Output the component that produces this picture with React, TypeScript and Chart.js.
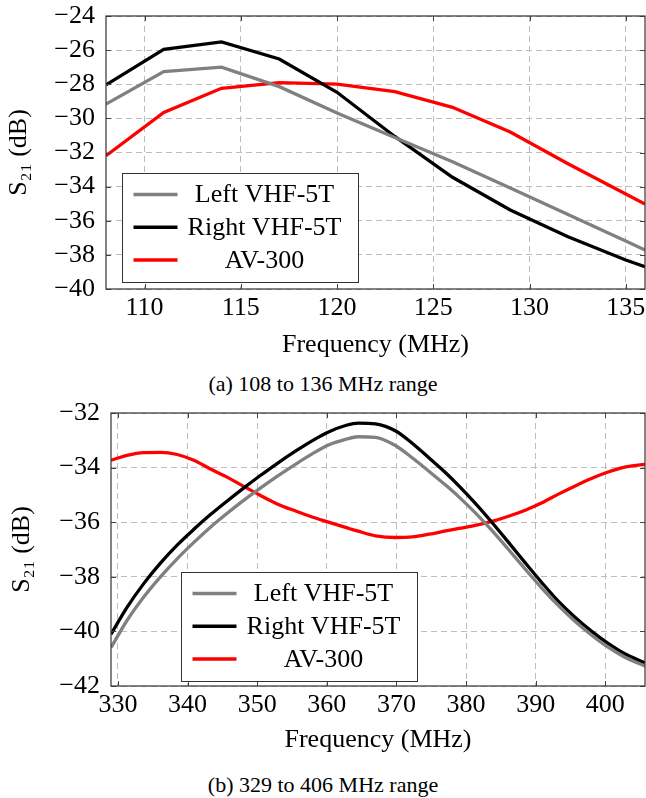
import React, { useEffect, useRef } from 'react';
import { Chart, registerables } from 'chart.js';

Chart.register(...registerables);

const FONT = '"Liberation Serif", "Times New Roman", Times, serif';

// ---------- shared ----------
const seriesLabels = ['Left VHF-5T', 'Right VHF-5T', 'AV-300'];
const seriesColors = ['#808080', '#000000', '#ff0000'];
const xTitle = 'Frequency (MHz)';
const yTitle = 'S\u2082\u2081 (dB)';

// ---------- (a) 108 to 136 MHz ----------
const captionA = '(a) 108 to 136 MHz range';
const freqA = [108, 111, 114, 117, 120, 123, 126, 129, 132, 135, 136];
const leftA = [-29.16, -27.26, -27.0, -28.14, -29.69, -31.12, -32.54, -34.08, -35.64, -37.19, -37.72];
const rightA = [-28.04, -25.95, -25.52, -26.52, -28.47, -31.06, -33.45, -35.37, -36.94, -38.3, -38.69];
const av300A = [-32.19, -29.65, -28.24, -27.91, -27.99, -28.43, -29.35, -30.8, -32.66, -34.43, -35.02];
const xTicksA = [110, 115, 120, 125, 130, 135];
const yTicksA = [-40, -38, -36, -34, -32, -30, -28, -26, -24];

// ---------- (b) 329 to 406 MHz ----------
const captionB = '(b) 329 to 406 MHz range';
const freqB = [329, 331.3, 333.7, 336.1, 338.5, 340.9, 343.2, 345.6, 348.0, 350.4, 352.8,
  355.6, 358.0, 360.0, 362.8, 364.5, 367.0, 369.9, 372.3, 374.7, 377.1, 379.0,
  381.3, 383.7, 386.1, 388.5, 390.9, 393.2, 395.6, 398.0, 400.4, 402.8, 405.7];
const leftB = [-40.59, -39.6, -38.74, -38.0, -37.34, -36.74, -36.2, -35.69, -35.21, -34.76, -34.33,
  -33.86, -33.48, -33.2, -32.96, -32.87, -32.89, -33.2, -33.65, -34.14, -34.65, -35.08,
  -35.65, -36.3, -37.0, -37.72, -38.42, -39.04, -39.62, -40.13, -40.58, -40.95, -41.27];
const rightB = [-40.1, -39.12, -38.25, -37.5, -36.84, -36.26, -35.74, -35.24, -34.76, -34.3, -33.86,
  -33.38, -33.0, -32.72, -32.45, -32.37, -32.4, -32.66, -33.12, -33.65, -34.2, -34.68,
  -35.3, -36.0, -36.74, -37.49, -38.22, -38.88, -39.47, -39.99, -40.44, -40.82, -41.15];
const av300B = [-33.73, -33.55, -33.45, -33.44, -33.52, -33.73, -34.04, -34.34, -34.68, -35.01, -35.32,
  -35.6, -35.82, -35.98, -36.2, -36.33, -36.5, -36.56, -36.54, -36.44, -36.32, -36.23,
  -36.12, -35.97, -35.78, -35.56, -35.29, -34.98, -34.68, -34.4, -34.16, -33.98, -33.88];
const xTicksB = [330, 340, 350, 360, 370, 380, 390, 400];
const yTicksB = [-42, -40, -38, -36, -34, -32];

const fmt = (v: number) => (v < 0 ? '\u2212' + Math.abs(v) : String(v));

const frameLegendPlugin = {
  id: 'frameLegend',
  afterDraw(chart: any, _args: any, opts: any) {
    const { ctx, chartArea: a, scales } = chart;
    ctx.save();
    // inward tick marks on all four sides
    ctx.strokeStyle = '#444';
    ctx.lineWidth = 1;
    ctx.beginPath();
    for (const t of scales.x.ticks) {
      const px = Math.round(scales.x.getPixelForValue(t.value)) + 0.5;
      ctx.moveTo(px, a.bottom);
      ctx.lineTo(px, a.bottom - 5);
      ctx.moveTo(px, a.top);
      ctx.lineTo(px, a.top + 5);
    }
    for (const t of scales.y.ticks) {
      const py = Math.round(scales.y.getPixelForValue(t.value)) + 0.5;
      ctx.moveTo(a.left, py);
      ctx.lineTo(a.left + 5, py);
      ctx.moveTo(a.right, py);
      ctx.lineTo(a.right - 5, py);
    }
    ctx.stroke();
    // frame
    ctx.strokeStyle = '#333';
    ctx.lineWidth = 1.2;
    ctx.strokeRect(a.left, a.top, a.right - a.left, a.bottom - a.top);

    // legend box
    const bx = Math.round(a.left + opts.offsetLeft) + 0.5;
    const by = Math.round(a.bottom - opts.offsetBottom - opts.height) + 0.5;
    ctx.fillStyle = '#ffffff';
    ctx.fillRect(bx, by, opts.width, opts.height);
    ctx.strokeStyle = '#333';
    ctx.lineWidth = 1;
    ctx.strokeRect(bx, by, opts.width, opts.height);
    chart.data.datasets.forEach((ds: any, i: number) => {
      const cy = by + 21 + i * 32.75;
      ctx.strokeStyle = ds.borderColor;
      ctx.lineWidth = 3.6;
      ctx.beginPath();
      ctx.moveTo(bx + 11, cy);
      ctx.lineTo(bx + 55, cy);
      ctx.stroke();
      ctx.fillStyle = '#000';
      ctx.font = `26px ${FONT}`;
      ctx.textAlign = 'center';
      ctx.textBaseline = 'middle';
      ctx.fillText(ds.label, bx + 142, cy + 1);
    });
    ctx.restore();
  },
};

type PlotProps = {
  freq: number[];
  series: number[][];
  xMin: number;
  xMax: number;
  yMin: number;
  yMax: number;
  xTicks: number[];
  yTicks: number[];
  smooth: boolean;
  width: number;
  height: number;
  padTop: number;
  yAxisWidth: number;
  xAxisHeight: number;
  yTitlePad: number;
  legend: { offsetLeft: number; offsetBottom: number; width: number; height: number };
};

function Plot(p: PlotProps) {
  const ref = useRef<HTMLCanvasElement | null>(null);
  useEffect(() => {
    if (!ref.current) return;
    const gridColor = '#bdbdbd';
    const tickFont = { family: FONT, size: 26 };
    const chart = new Chart(ref.current, {
      type: 'line',
      data: {
        datasets: p.series.map((vals, i) => ({
          label: seriesLabels[i],
          data: p.freq.map((f, j) => ({ x: f, y: vals[j] })),
          borderColor: seriesColors[i],
          backgroundColor: seriesColors[i],
          borderWidth: 3.3,
          pointRadius: 0,
          fill: false,
          tension: 0,
          cubicInterpolationMode: p.smooth ? 'monotone' : 'default',
        })),
      },
      options: {
        animation: false,
        responsive: false,
        events: [],
        layout: { padding: { top: p.padTop, right: 1, left: 0, bottom: 0 } },
        plugins: {
          legend: { display: false },
          tooltip: { enabled: false },
          frameLegend: p.legend,
        } as any,
        scales: {
          x: {
            type: 'linear',
            min: p.xMin,
            max: p.xMax,
            afterBuildTicks: (s: any) => {
              s.ticks = p.xTicks.map((v) => ({ value: v }));
            },
            afterFit: (s: any) => {
              s.height = p.xAxisHeight;
              s.paddingLeft = 0;
              s.paddingRight = 0;
            },
            ticks: {
              padding: 4,
              color: '#000',
              font: tickFont,
              maxRotation: 0,
              autoSkip: false,
              callback: (v: any) => fmt(Number(v)),
            },
            grid: { color: gridColor, lineWidth: 1, drawTicks: false },
            border: { display: false, dash: [6, 4] },
            title: {
              display: true,
              text: xTitle,
              color: '#000',
              font: tickFont,
              padding: { top: 0, bottom: 5 },
            },
          },
          y: {
            type: 'linear',
            min: p.yMin,
            max: p.yMax,
            afterBuildTicks: (s: any) => {
              s.ticks = p.yTicks.map((v) => ({ value: v }));
            },
            afterFit: (s: any) => {
              s.width = p.yAxisWidth;
              s.paddingTop = 0;
              s.paddingBottom = 0;
            },
            ticks: {
              padding: 11,
              color: '#000',
              font: tickFont,
              autoSkip: false,
              callback: (v: any) => fmt(Number(v)),
            },
            grid: { color: gridColor, lineWidth: 1, drawTicks: false },
            border: { display: false, dash: [6, 4] },
            title: {
              display: true,
              text: yTitle,
              color: '#000',
              font: tickFont,
              padding: { top: p.yTitlePad, bottom: 0 },
            },
          },
        },
      } as any,
      plugins: [frameLegendPlugin as any],
    });
    return () => chart.destroy();
  }, []);
  return (
    <canvas
      ref={ref}
      width={p.width}
      height={p.height}
      style={{ width: p.width, height: p.height, display: 'block' }}
    />
  );
}

const captionStyle: React.CSSProperties = {
  position: 'absolute',
  left: 0,
  width: 646,
  height: 26,
  lineHeight: '26px',
  textAlign: 'center',
  fontFamily: FONT,
  fontSize: 22,
  color: '#000',
  whiteSpace: 'nowrap',
};

export default function App() {
  return (
    <div style={{ position: 'absolute', left: 0, top: 0, width: 646, height: 798, background: '#fff', overflow: 'hidden' }}>
      <div style={{ position: 'absolute', left: 0, top: 0 }}>
        <Plot
          freq={freqA}
          series={[leftA, rightA, av300A]}
          xMin={108}
          xMax={136}
          yMin={-40}
          yMax={-24}
          xTicks={xTicksA}
          yTicks={yTicksA}
          smooth={false}
          width={646}
          height={366}
          padTop={16}
          yAxisWidth={106}
          xAxisHeight={77}
          yTitlePad={4}
          legend={{ offsetLeft: 16, offsetBottom: 7, width: 236, height: 109 }}
        />
      </div>
      <div style={{ ...captionStyle, top: 371 }}>{captionA}</div>
      <div style={{ position: 'absolute', left: 0, top: 396 }}>
        <Plot
          freq={freqB}
          series={[leftB, rightB, av300B]}
          xMin={329}
          xMax={405.7}
          yMin={-42}
          yMax={-32}
          xTicks={xTicksB}
          yTicks={yTicksB}
          smooth={true}
          width={646}
          height={365}
          padTop={17}
          yAxisWidth={111}
          xAxisHeight={75}
          yTitlePad={7}
          legend={{ offsetLeft: 70, offsetBottom: 5, width: 236, height: 109 }}
        />
      </div>
      <div style={{ ...captionStyle, top: 772 }}>{captionB}</div>
    </div>
  );
}
